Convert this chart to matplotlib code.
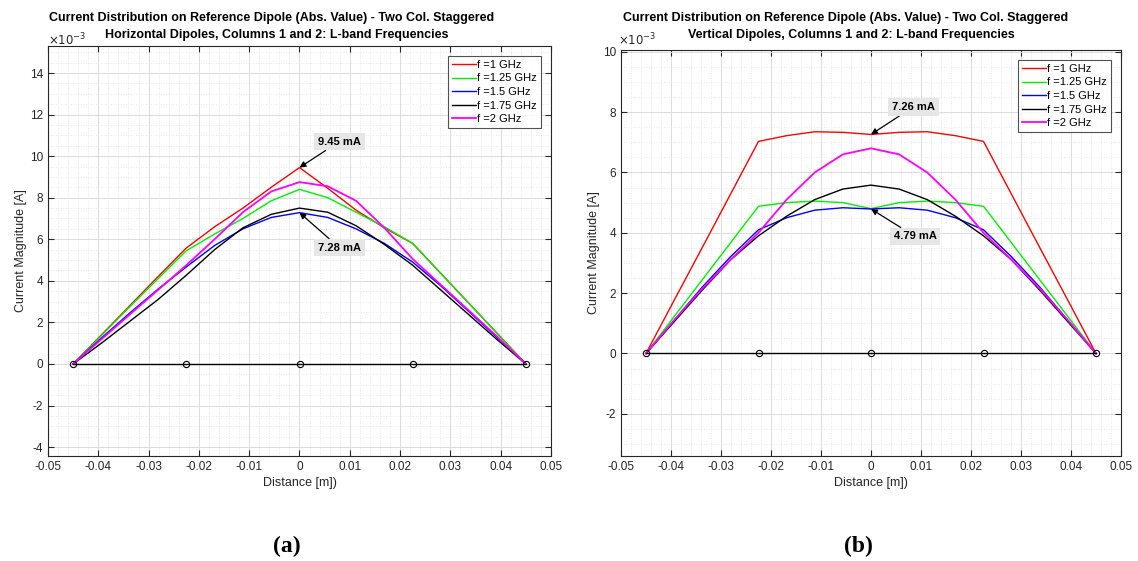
import matplotlib
matplotlib.use("Agg")
import matplotlib.pyplot as plt
from matplotlib.ticker import MultipleLocator, AutoMinorLocator, FuncFormatter
import numpy as np

plt.rcParams['font.family'] = ['Liberation Sans', 'DejaVu Sans']

# ---------------- data ----------------
z = [-0.045, -0.039375, -0.03375, -0.028125, -0.0225, -0.016875, -0.01125, -0.005625, 0.0,
     0.005625, 0.01125, 0.016875, 0.0225, 0.028125, 0.03375, 0.039375, 0.045]
seg_x = [-0.045, -0.0225, 0.0, 0.0225, 0.045]
seg_y = [0, 0, 0, 0, 0]
labels = ['f =1 GHz', 'f =1.25 GHz', 'f =1.5 GHz', 'f =1.75 GHz', 'f =2 GHz']
colors = ['#ff0000', '#00ee00', '#0000ff', '#000000', '#ff00ff']

# (a) horizontal dipoles, current in mA
h_1g00 = [0, 1.4, 2.8, 4.2, 5.58, 6.6, 7.5, 8.5, 9.45, 8.45, 7.4, 6.55, 5.8, 4.35, 2.9, 1.45, 0]
h_1g25 = [0, 1.37, 2.75, 4.1, 5.45, 6.25, 7.0, 7.85, 8.4, 8.0, 7.3, 6.6, 5.8, 4.35, 2.9, 1.45, 0]
h_1g50 = [0, 1.25, 2.45, 3.6, 4.67, 5.7, 6.5, 7.05, 7.28, 7.05, 6.5, 5.8, 4.9, 3.75, 2.5, 1.25, 0]
h_1g75 = [0, 1.0, 2.05, 3.1, 4.27, 5.5, 6.55, 7.2, 7.5, 7.3, 6.65, 5.75, 4.75, 3.55, 2.35, 1.15, 0]
h_2g00 = [0, 1.19, 2.38, 3.56, 4.75, 6.0, 7.3, 8.3, 8.75, 8.55, 7.85, 6.55, 5.05, 3.8, 2.55, 1.3, 0]

# (b) vertical dipoles, current in mA
v_1g00 = [0, 1.76, 3.51, 5.27, 7.03, 7.22, 7.35, 7.33, 7.26, 7.33, 7.35, 7.22, 7.03, 5.27, 3.51, 1.76, 0]
v_1g25 = [0, 1.22, 2.44, 3.66, 4.88, 5.0, 5.05, 5.0, 4.8, 5.0, 5.05, 5.0, 4.88, 3.66, 2.44, 1.22, 0]
v_1g50 = [0, 1.1, 2.2, 3.2, 4.1, 4.5, 4.75, 4.83, 4.79, 4.83, 4.75, 4.5, 4.1, 3.2, 2.2, 1.1, 0]
v_1g75 = [0, 1.05, 2.1, 3.1, 3.9, 4.55, 5.1, 5.45, 5.58, 5.45, 5.1, 4.55, 3.9, 3.1, 2.1, 1.05, 0]
v_2g00 = [0, 1.1, 2.15, 3.1, 4.0, 5.1, 6.0, 6.6, 6.8, 6.6, 6.0, 5.1, 4.0, 3.1, 2.15, 1.1, 0]

title_a = ['Current Distribution on Reference Dipole (Abs. Value) - Two Col. Staggered',
           'Horizontal Dipoles, Columns 1 and 2: L-band Frequencies']
title_b = ['Current Distribution on Reference Dipole (Abs. Value) - Two Col. Staggered',
           'Vertical Dipoles, Columns 1 and 2: L-band Frequencies']

W, H = 1138, 561
fig = plt.figure(figsize=(W / 100, H / 100), dpi=100)


def px_axes(x0, x1, y0, y1):
    return fig.add_axes([x0 / W, 1 - y1 / H, (x1 - x0) / W, (y1 - y0) / H])


def style(ax, ylim, ymaj):
    ax.set_xlim(-0.05, 0.05)
    ax.set_ylim(ylim[0] * 1e-3, ylim[1] * 1e-3)
    ax.xaxis.set_major_locator(MultipleLocator(0.01))
    ax.xaxis.set_minor_locator(AutoMinorLocator(5))
    ax.yaxis.set_major_locator(MultipleLocator(ymaj * 1e-3))
    ax.yaxis.set_minor_locator(AutoMinorLocator(4))
    ax.xaxis.set_major_formatter(FuncFormatter(lambda v, p: ('%g' % round(v, 4)) if abs(v) > 1e-9 else '0'))
    ax.yaxis.set_major_formatter(FuncFormatter(lambda v, p: '%g' % round(v * 1e3, 3)))
    ax.tick_params(which='both', direction='in', top=True, right=True, labelsize=8.5,
                   color='#262626', labelcolor='#262626')
    ax.tick_params(which='major', length=4)
    ax.tick_params(which='minor', length=0)
    ax.grid(True, which='major', color='#dcdcdc', lw=0.7)
    ax.grid(True, which='minor', color='#e0e0e0', lw=0.6, ls=(0, (1, 2)))
    ax.set_axisbelow(True)
    for s in ax.spines.values():
        s.set_color('#262626')
        s.set_linewidth(0.8)
    ax.set_xlabel('Distance [m])', fontsize=9, color='#262626', labelpad=3)
    ax.set_ylabel('Current Magnitude [A]', fontsize=9, color='#262626', labelpad=2)


def draw(ax, series):
    for vals, lab, c in zip(series, labels, colors):
        lw = 1.3 if c == '#ff00ff' else 1.0
        ax.plot(z, np.array(vals) * 1e-3, color=c, lw=lw, label=lab)
    ax.plot(seg_x, seg_y, color='black', lw=1.0, marker='o', ms=4.5, mfc='none', mec='black', mew=0.8)
    leg = ax.legend(loc='upper right', fontsize=8, frameon=True, fancybox=False, edgecolor='#262626',
                    handlelength=2.2, handletextpad=0.1, borderaxespad=0.9, labelspacing=0.32,
                    borderpad=0.35)
    leg.get_frame().set_linewidth(0.8)


def note(ax, text, xy, xyt):
    ax.annotate(text, xy=(xy[0], xy[1] * 1e-3), xytext=(xyt[0], xyt[1] * 1e-3),
                fontsize=8, fontweight='bold', ha='center', va='center',
                bbox=dict(boxstyle='square,pad=0.35', fc='#e6e6e6', ec='none'),
                arrowprops=dict(arrowstyle='-|>', color='black', lw=0.9, mutation_scale=9,
                                shrinkA=0, shrinkB=0))


# ---- (a) ----
axa = px_axes(48, 551, 46, 456)
style(axa, (-4.43, 15.3), 2)
draw(axa, [h_1g00, h_1g25, h_1g50, h_1g75, h_2g00])
note(axa, '9.45 mA', (0.0, 9.45), (0.0079, 10.7))
note(axa, '7.28 mA', (0.0, 7.28), (0.0079, 5.6))
fig.text(48 / W, 1 - 40 / H, r'$\times10^{-3}$', fontsize=8.5, color='#262626', ha='left', va='center')
fig.text(272 / W, 1 - 18 / H, title_a[0], fontsize=9, fontweight='bold', ha='center', va='center')
fig.text(277 / W, 1 - 35 / H, title_a[1], fontsize=9, fontweight='bold', ha='center', va='center')

# ---- (b) ----
axb = px_axes(621, 1121, 50, 456)
style(axb, (-3.4, 10.06), 2)
draw(axb, [v_1g00, v_1g25, v_1g50, v_1g75, v_2g00])
note(axb, '7.26 mA', (0.0, 7.26), (0.0085, 8.18))
note(axb, '4.79 mA', (0.0, 4.79), (0.0088, 3.88))
fig.text(618 / W, 1 - 40 / H, r'$\times10^{-3}$', fontsize=8.5, color='#262626', ha='left', va='center')
fig.text(846 / W, 1 - 18 / H, title_b[0], fontsize=9, fontweight='bold', ha='center', va='center')
fig.text(851 / W, 1 - 35 / H, title_b[1], fontsize=9, fontweight='bold', ha='center', va='center')

fig.text(287 / W, 1 - 546 / H, '(a)', fontsize=17, fontweight='bold', family='Liberation Serif',
         ha='center', va='center')
fig.text(858 / W, 1 - 546 / H, '(b)', fontsize=17, fontweight='bold', family='Liberation Serif',
         ha='center', va='center')

fig.savefig('out.png', dpi=100)
